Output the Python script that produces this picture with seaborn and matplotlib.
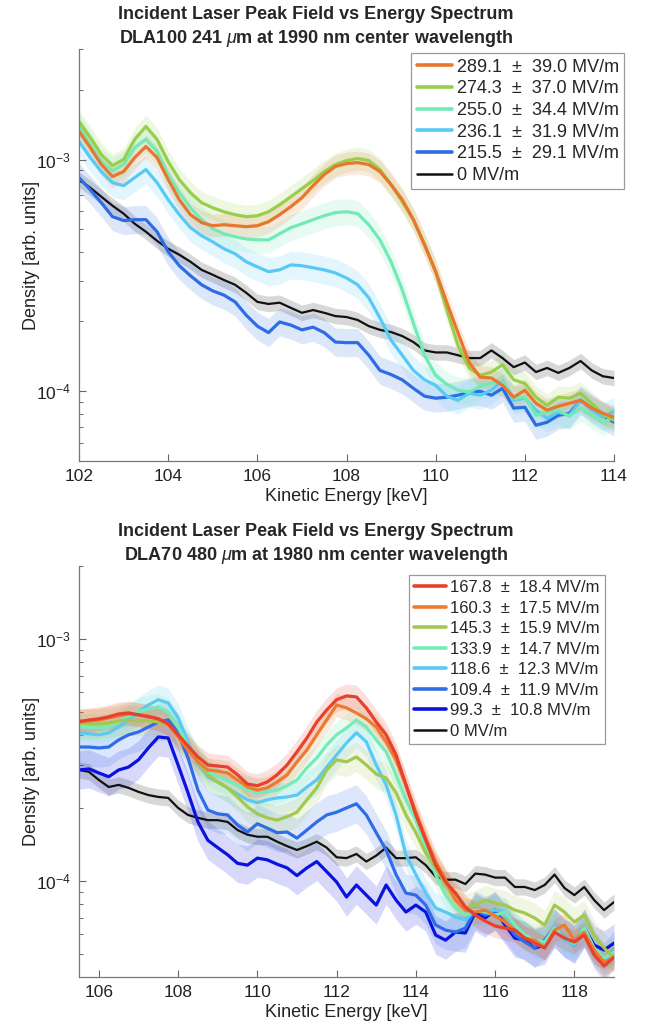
import numpy as np
import pandas as pd
import matplotlib
matplotlib.use("Agg")
import matplotlib.pyplot as plt
import seaborn as sns
from matplotlib.ticker import LogLocator, LogFormatterSciNotation, NullFormatter, FixedLocator

# ---------------- data: top panel (DLA100) ----------------
energy_top = [102.0, 102.25, 102.5, 102.75, 103.0, 103.25, 103.5, 103.75, 104.0, 104.25,
              104.5, 104.75, 105.0, 105.25, 105.5, 105.75, 106.0, 106.25, 106.5, 106.75,
              107.0, 107.25, 107.5, 107.75, 108.0, 108.25, 108.5, 108.75, 109.0, 109.25,
              109.5, 109.75, 110.0, 110.25, 110.5, 110.75, 111.0, 111.25, 111.5, 111.75,
              112.0, 112.25, 112.5, 112.75, 113.0, 113.25, 113.5, 113.75, 114.0]

top_289 = [1.322e-3, 1.127e-3, 9.51e-4, 8.44e-4, 8.87e-4, 1.02e-3, 1.138e-3, 1.02e-3, 8.19e-4, 6.71e-4,
           5.78e-4, 5.34e-4, 5.18e-4, 5.23e-4, 5.18e-4, 5.13e-4, 5.18e-4, 5.39e-4, 5.78e-4, 6.26e-4,
           6.84e-4, 7.71e-4, 8.61e-4, 9.33e-4, 9.60e-4, 9.70e-4, 9.51e-4, 8.87e-4, 7.79e-4, 6.71e-4,
           5.50e-4, 4.29e-4, 3.28e-4, 2.41e-4, 1.79e-4, 1.33e-4, 1.15e-4, 1.14e-4, 1.06e-4, 9.42e-5,
           1.01e-4, 8.87e-5, 8.28e-5, 8.61e-5, 8.87e-5, 9.14e-5, 8.45e-5, 8.03e-5, 7.72e-5]
top_274 = [1.46e-3, 1.245e-3, 1.051e-3, 9.42e-4, 1.0e-3, 1.221e-3, 1.39e-3, 1.221e-3, 9.80e-4, 8.19e-4,
           7.19e-4, 6.51e-4, 6.19e-4, 5.95e-4, 5.78e-4, 5.67e-4, 5.72e-4, 5.95e-4, 6.38e-4, 6.91e-4,
           7.49e-4, 8.11e-4, 8.87e-4, 9.51e-4, 9.90e-4, 1.01e-3, 9.90e-4, 9.05e-4, 7.79e-4, 6.58e-4,
           5.50e-4, 4.29e-4, 3.28e-4, 2.24e-4, 1.58e-4, 1.26e-4, 1.17e-4, 1.21e-4, 1.30e-4, 1.12e-4,
           1.08e-4, 9.42e-5, 8.69e-5, 9.42e-5, 9.33e-5, 9.80e-5, 8.87e-5, 7.95e-5, 7.49e-5]
top_255 = [1.39e-3, 1.161e-3, 9.80e-4, 8.96e-4, 9.51e-4, 1.127e-3, 1.221e-3, 1.083e-3, 8.61e-4, 7.19e-4,
           6.19e-4, 5.50e-4, 5.03e-4, 4.78e-4, 4.64e-4, 4.54e-4, 4.50e-4, 4.50e-4, 4.78e-4, 5.08e-4,
           5.28e-4, 5.50e-4, 5.72e-4, 5.90e-4, 5.95e-4, 5.84e-4, 5.23e-4, 4.50e-4, 3.62e-4, 2.74e-4,
           1.97e-4, 1.43e-4, 1.17e-4, 1.07e-4, 1.01e-4, 9.91e-5, 1.05e-4, 1.08e-4, 1.10e-4, 9.33e-5,
           9.42e-5, 7.87e-5, 8.11e-5, 8.28e-5, 7.80e-5, 8.45e-5, 7.87e-5, 7.35e-5, 7.72e-5]
top_236 = [1.197e-3, 1.02e-3, 8.87e-4, 7.95e-4, 7.71e-4, 8.36e-4, 9.05e-4, 7.95e-4, 6.71e-4, 5.78e-4,
           5.08e-4, 4.69e-4, 4.41e-4, 4.12e-4, 3.92e-4, 3.62e-4, 3.44e-4, 3.28e-4, 3.34e-4, 3.51e-4,
           3.48e-4, 3.41e-4, 3.34e-4, 3.24e-4, 3.08e-4, 2.88e-4, 2.53e-4, 2.07e-4, 1.66e-4, 1.43e-4,
           1.23e-4, 1.12e-4, 1.06e-4, 9.52e-5, 9.14e-5, 9.80e-5, 9.61e-5, 1.01e-4, 1.11e-4, 9.14e-5,
           9.33e-5, 8.28e-5, 7.64e-5, 8.11e-5, 7.87e-5, 9.14e-5, 8.28e-5, 7.72e-5, 8.19e-5]
top_215 = [8.36e-4, 7.41e-4, 6.51e-4, 5.67e-4, 5.45e-4, 5.50e-4, 5.50e-4, 4.88e-4, 4.00e-4, 3.48e-4,
           3.15e-4, 2.88e-4, 2.71e-4, 2.60e-4, 2.43e-4, 2.13e-4, 1.91e-4, 1.79e-4, 1.99e-4, 1.93e-4,
           1.84e-4, 1.89e-4, 1.79e-4, 1.63e-4, 1.62e-4, 1.62e-4, 1.43e-4, 1.23e-4, 1.18e-4, 1.12e-4,
           1.03e-4, 9.52e-5, 9.33e-5, 9.42e-5, 9.61e-5, 9.91e-5, 1.00e-4, 9.61e-5, 1.03e-4, 8.45e-5,
           8.53e-5, 7.13e-5, 7.35e-5, 7.87e-5, 8.03e-5, 9.14e-5, 8.45e-5, 7.87e-5, 7.35e-5]
top_0 = [8.19e-4, 7.56e-4, 6.91e-4, 6.32e-4, 5.84e-4, 5.28e-4, 4.88e-4, 4.46e-4, 4.12e-4, 3.88e-4,
         3.62e-4, 3.34e-4, 3.18e-4, 3.02e-4, 2.88e-4, 2.66e-4, 2.43e-4, 2.38e-4, 2.41e-4, 2.29e-4,
         2.18e-4, 2.24e-4, 2.18e-4, 2.11e-4, 2.09e-4, 2.03e-4, 1.91e-4, 1.84e-4, 1.80e-4, 1.73e-4,
         1.63e-4, 1.50e-4, 1.47e-4, 1.47e-4, 1.43e-4, 1.39e-4, 1.39e-4, 1.50e-4, 1.39e-4, 1.27e-4,
         1.33e-4, 1.21e-4, 1.26e-4, 1.20e-4, 1.26e-4, 1.35e-4, 1.23e-4, 1.16e-4, 1.14e-4]

top_labels = ["289.1  \u00b1  39.0 MV/m", "274.3  \u00b1  37.0 MV/m", "255.0  \u00b1  34.4 MV/m",
              "236.1  \u00b1  31.9 MV/m", "215.5  \u00b1  29.1 MV/m", "0 MV/m"]
top_series = [top_289, top_274, top_255, top_236, top_215, top_0]
top_colors = ["#E8772E", "#97CF4C", "#72EAB6", "#58C9F4", "#2E6CE6", "#111111"]
top_rel_err = [0.12, 0.12, 0.14, 0.15, 0.15, 0.08]

# ---------------- data: bottom panel (DLA70) ----------------
energy_bot = [105.5, 105.75, 106.0, 106.25, 106.5, 106.75, 107.0, 107.25, 107.5, 107.75,
              108.0, 108.25, 108.5, 108.75, 109.0, 109.25, 109.5, 109.75, 110.0, 110.25,
              110.5, 110.75, 111.0, 111.25, 111.5, 111.75, 112.0, 112.25, 112.5, 112.75,
              113.0, 113.25, 113.5, 113.75, 114.0, 114.25, 114.5, 114.75, 115.0, 115.25,
              115.5, 115.75, 116.0, 116.25, 116.5, 116.75, 117.0, 117.25, 117.5, 117.75,
              118.0, 118.25, 118.5, 118.75, 119.0]

bot_168 = [4.53e-4, 4.62e-4, 4.67e-4, 4.76e-4, 4.89e-4, 4.94e-4, 4.85e-4, 4.76e-4, 4.67e-4, 4.45e-4,
           4.01e-4, 3.61e-4, 3.25e-4, 3.01e-4, 2.98e-4, 2.95e-4, 2.74e-4, 2.51e-4, 2.47e-4, 2.56e-4,
           2.74e-4, 3.01e-4, 3.41e-4, 3.89e-4, 4.53e-4, 5.08e-4, 5.60e-4, 5.81e-4, 5.75e-4, 5.18e-4,
           4.53e-4, 4.01e-4, 3.31e-4, 2.49e-4, 1.87e-4, 1.47e-4, 1.16e-4, 9.88e-5, 8.89e-5, 7.78e-5,
           7.21e-5, 6.81e-5, 6.50e-5, 6.37e-5, 6.25e-5, 5.79e-5, 5.52e-5, 5.27e-5, 6.13e-5, 5.79e-5,
           5.58e-5, 5.96e-5, 4.93e-5, 4.44e-5, 4.83e-5]
bot_160 = [4.58e-4, 4.58e-4, 4.62e-4, 4.71e-4, 4.80e-4, 4.89e-4, 4.85e-4, 4.80e-4, 4.67e-4, 4.45e-4,
           3.93e-4, 3.47e-4, 3.10e-4, 2.87e-4, 2.84e-4, 2.79e-4, 2.61e-4, 2.44e-4, 2.37e-4, 2.42e-4,
           2.56e-4, 2.74e-4, 3.10e-4, 3.47e-4, 4.01e-4, 4.62e-4, 5.33e-4, 5.18e-4, 4.94e-4, 4.67e-4,
           4.32e-4, 3.75e-4, 3.16e-4, 2.49e-4, 1.92e-4, 1.50e-4, 1.20e-4, 1.01e-4, 8.32e-5, 7.56e-5,
           7.42e-5, 7.56e-5, 7.15e-5, 6.75e-5, 6.25e-5, 5.79e-5, 5.68e-5, 5.27e-5, 6.25e-5, 6.56e-5,
           5.68e-5, 6.13e-5, 5.17e-5, 4.61e-5, 4.79e-5]
bot_145 = [4.49e-4, 4.45e-4, 4.45e-4, 4.49e-4, 4.58e-4, 4.62e-4, 4.58e-4, 4.58e-4, 4.53e-4, 4.41e-4,
           4.01e-4, 3.54e-4, 3.10e-4, 2.74e-4, 2.56e-4, 2.42e-4, 2.22e-4, 2.02e-4, 1.89e-4, 1.82e-4,
           1.78e-4, 1.84e-4, 1.92e-4, 2.16e-4, 2.42e-4, 2.87e-4, 3.16e-4, 3.10e-4, 3.25e-4, 3.01e-4,
           2.76e-4, 2.66e-4, 2.31e-4, 1.87e-4, 1.58e-4, 1.30e-4, 1.13e-4, 9.60e-5, 8.32e-5, 7.71e-5,
           7.93e-5, 8.32e-5, 8.09e-5, 7.93e-5, 7.56e-5, 7.35e-5, 7.01e-5, 6.56e-5, 7.93e-5, 7.42e-5,
           6.75e-5, 7.21e-5, 5.96e-5, 5.27e-5, 4.79e-5]
bot_134 = [4.32e-4, 4.32e-4, 4.28e-4, 4.32e-4, 4.53e-4, 4.80e-4, 4.99e-4, 5.13e-4, 5.23e-4, 4.99e-4,
           4.32e-4, 3.64e-4, 3.16e-4, 2.84e-4, 2.69e-4, 2.59e-4, 2.47e-4, 2.37e-4, 2.31e-4, 2.33e-4,
           2.37e-4, 2.47e-4, 2.61e-4, 2.93e-4, 3.22e-4, 3.64e-4, 4.01e-4, 4.28e-4, 4.62e-4, 4.32e-4,
           3.82e-4, 3.41e-4, 2.74e-4, 2.16e-4, 1.78e-4, 1.38e-4, 1.06e-4, 8.72e-5, 7.71e-5, 7.21e-5,
           7.56e-5, 7.42e-5, 7.21e-5, 7.42e-5, 6.56e-5, 5.96e-5, 5.68e-5, 5.58e-5, 6.37e-5, 5.79e-5,
           5.52e-5, 6.37e-5, 5.27e-5, 4.79e-5, 5.07e-5]
bot_119 = [4.09e-4, 4.05e-4, 4.01e-4, 4.09e-4, 4.32e-4, 4.62e-4, 4.99e-4, 5.33e-4, 5.60e-4, 5.44e-4,
           4.71e-4, 3.75e-4, 3.04e-4, 2.69e-4, 2.56e-4, 2.42e-4, 2.28e-4, 2.16e-4, 2.10e-4, 2.16e-4,
           2.20e-4, 2.22e-4, 2.26e-4, 2.44e-4, 2.61e-4, 2.95e-4, 3.31e-4, 3.71e-4, 4.09e-4, 3.75e-4,
           3.01e-4, 2.49e-4, 1.87e-4, 1.28e-4, 1.06e-4, 8.89e-5, 7.71e-5, 7.42e-5, 7.08e-5, 6.88e-5,
           7.56e-5, 7.42e-5, 7.56e-5, 7.42e-5, 6.43e-5, 5.96e-5, 5.52e-5, 5.42e-5, 6.50e-5, 5.68e-5,
           5.42e-5, 6.43e-5, 5.17e-5, 4.57e-5, 5.17e-5]
bot_109 = [3.57e-4, 3.57e-4, 3.54e-4, 3.57e-4, 3.82e-4, 4.01e-4, 4.12e-4, 4.32e-4, 4.53e-4, 4.62e-4,
           4.09e-4, 3.22e-4, 2.37e-4, 1.96e-4, 1.89e-4, 1.87e-4, 1.70e-4, 1.59e-4, 1.72e-4, 1.65e-4,
           1.58e-4, 1.59e-4, 1.50e-4, 1.62e-4, 1.75e-4, 1.87e-4, 1.92e-4, 2.00e-4, 2.08e-4, 1.87e-4,
           1.58e-4, 1.34e-4, 1.06e-4, 8.89e-5, 8.72e-5, 7.93e-5, 6.56e-5, 6.25e-5, 6.13e-5, 6.37e-5,
           7.56e-5, 7.21e-5, 7.42e-5, 6.75e-5, 5.96e-5, 5.58e-5, 5.27e-5, 5.68e-5, 6.37e-5, 5.79e-5,
           5.42e-5, 6.37e-5, 5.17e-5, 4.61e-5, 5.17e-5]
bot_99 = [2.87e-4, 2.90e-4, 2.79e-4, 2.69e-4, 2.87e-4, 2.95e-4, 3.16e-4, 3.54e-4, 3.93e-4, 3.89e-4,
          3.01e-4, 2.31e-4, 1.75e-4, 1.47e-4, 1.37e-4, 1.28e-4, 1.18e-4, 1.16e-4, 1.24e-4, 1.22e-4,
          1.17e-4, 1.13e-4, 1.05e-4, 1.13e-4, 1.20e-4, 1.09e-4, 9.88e-5, 8.56e-5, 9.60e-5, 8.72e-5,
          7.93e-5, 9.60e-5, 8.32e-5, 7.42e-5, 7.93e-5, 7.42e-5, 5.96e-5, 5.68e-5, 6.13e-5, 6.08e-5,
          7.42e-5, 7.01e-5, 7.56e-5, 6.56e-5, 5.79e-5, 5.68e-5, 5.27e-5, 5.42e-5, 6.37e-5, 5.79e-5,
          5.52e-5, 6.37e-5, 5.42e-5, 5.17e-5, 5.52e-5]
bot_0 = [2.87e-4, 2.82e-4, 2.61e-4, 2.44e-4, 2.49e-4, 2.42e-4, 2.33e-4, 2.26e-4, 2.22e-4, 2.20e-4,
         2.00e-4, 1.87e-4, 1.82e-4, 1.78e-4, 1.78e-4, 1.75e-4, 1.62e-4, 1.55e-4, 1.52e-4, 1.52e-4,
         1.45e-4, 1.39e-4, 1.34e-4, 1.39e-4, 1.45e-4, 1.37e-4, 1.25e-4, 1.24e-4, 1.29e-4, 1.20e-4,
         1.27e-4, 1.37e-4, 1.24e-4, 1.24e-4, 1.25e-4, 1.16e-4, 1.04e-4, 1.01e-4, 1.01e-4, 9.69e-5,
         1.07e-4, 1.06e-4, 1.03e-4, 1.03e-4, 9.42e-5, 9.42e-5, 9.15e-5, 9.60e-5, 1.06e-4, 9.33e-5,
         8.72e-5, 9.42e-5, 8.32e-5, 7.56e-5, 8.16e-5]

bot_labels = ["167.8  \u00b1  18.4 MV/m", "160.3  \u00b1  17.5 MV/m", "145.3  \u00b1  15.9 MV/m",
              "133.9  \u00b1  14.7 MV/m", "118.6  \u00b1  12.3 MV/m", "109.4  \u00b1  11.9 MV/m",
              "99.3  \u00b1  10.8 MV/m", "0 MV/m"]
bot_series = [bot_168, bot_160, bot_145, bot_134, bot_119, bot_109, bot_99, bot_0]
bot_colors = ["#E8402C", "#EA7B30", "#A2C850", "#74ECB8", "#5AC9F4", "#2F6CE8", "#0A12E0", "#111111"]
bot_rel_err = [0.12, 0.12, 0.15, 0.14, 0.15, 0.2, 0.2, 0.08]

top_title = "Incident Laser Peak Field vs Energy Spectrum\nDLA100 241 $\\mu$m at 1990 nm center wavelength"
bot_title = "Incident Laser Peak Field vs Energy Spectrum\nDLA70 480 $\\mu$m at 1980 nm center wavelength"

# ---------------- style ----------------
sns.set_style("ticks")
plt.rcParams["font.family"] = ["Liberation Sans", "DejaVu Sans"]
plt.rcParams["mathtext.fontset"] = "custom"
plt.rcParams["mathtext.rm"] = "Liberation Sans"
plt.rcParams["mathtext.it"] = "Liberation Sans:italic"
plt.rcParams["mathtext.bf"] = "Liberation Sans:bold"

fig = plt.figure(figsize=(6.52, 10.31), dpi=100)
ax_top = fig.add_axes([0.1212, 0.5529, 0.8205, 0.3996])
ax_bot = fig.add_axes([0.1212, 0.0524, 0.8205, 0.3986])


def draw_panel(ax, energy, series, labels, colors, rel_err, xlim, ylim, xticks, title,
               leg_anchor, leg_fs, leg_spacing):
    x = np.asarray(energy)
    for yv, lab, col, r in reversed(list(zip(series, labels, colors, rel_err))):
        yv = np.asarray(yv)
        ax.fill_between(x, yv / (1 + r), yv * (1 + r), color=col, alpha=0.16, lw=0)
    for yv, lab, col, r in reversed(list(zip(series, labels, colors, rel_err))):
        df = pd.DataFrame({"energy": x, "density": yv})
        lw = 1.6 if lab.startswith("0 ") else 2.3
        sns.lineplot(data=df, x="energy", y="density", ax=ax, color=col, lw=lw,
                     label=lab, estimator=None, sort=False, legend=False)
    ax.set_yscale("log")
    ax.set_xlim(*xlim)
    ax.set_ylim(*ylim)
    ax.xaxis.set_major_locator(FixedLocator(xticks))
    ax.yaxis.set_major_locator(LogLocator(base=10))
    ax.yaxis.set_major_formatter(LogFormatterSciNotation())
    ax.yaxis.set_minor_locator(LogLocator(base=10, subs=np.arange(2, 10)))
    ax.yaxis.set_minor_formatter(NullFormatter())
    ax.tick_params(axis="both", which="major", direction="in", length=5, width=0.8,
                   labelsize=12.5, color="#666666", labelcolor="#222222", pad=6)
    ax.tick_params(axis="y", which="minor", direction="in", length=3, width=0.7, color="#666666")
    for s in ["top", "right"]:
        ax.spines[s].set_visible(False)
    for s in ["left", "bottom"]:
        ax.spines[s].set_color("#777777")
        ax.spines[s].set_linewidth(0.9)
    ax.set_xlabel("Kinetic Energy [keV]", fontsize=13, color="#222222", labelpad=3)
    ax.set_ylabel("Density [arb. units]", fontsize=13, color="#222222", labelpad=-3)
    ax.set_title(title, fontsize=13, fontweight="bold", linespacing=1.33, pad=4, x=0.443)
    h, l = ax.get_legend_handles_labels()
    order = [l.index(lab) for lab in labels]
    leg = ax.legend([h[i] for i in order], [l[i] for i in order], loc="upper right",
                    bbox_to_anchor=leg_anchor, fontsize=leg_fs, frameon=True, fancybox=False,
                    framealpha=1, edgecolor="#9a9a9a", borderpad=0.3, labelspacing=leg_spacing,
                    handlelength=1.95, handletextpad=0.25, borderaxespad=0)
    leg.get_frame().set_linewidth(0.9)
    for line in leg.get_lines():
        line.set_linewidth(2.6)
    leg.get_lines()[-1].set_linewidth(1.8)


draw_panel(ax_top, energy_top, top_series, top_labels, top_colors, top_rel_err,
           (102, 114), (5e-5, 3e-3), [102, 104, 106, 108, 110, 112, 114], top_title,
           (1.019, 0.99), 13, 0.26)
draw_panel(ax_bot, energy_bot, bot_series, bot_labels, bot_colors, bot_rel_err,
           (105.5, 119), (4e-5, 2e-3), [106, 108, 110, 112, 114, 116, 118], bot_title,
           (0.983, 0.978), 12, 0.33)

fig.savefig("out.png", dpi=100)
